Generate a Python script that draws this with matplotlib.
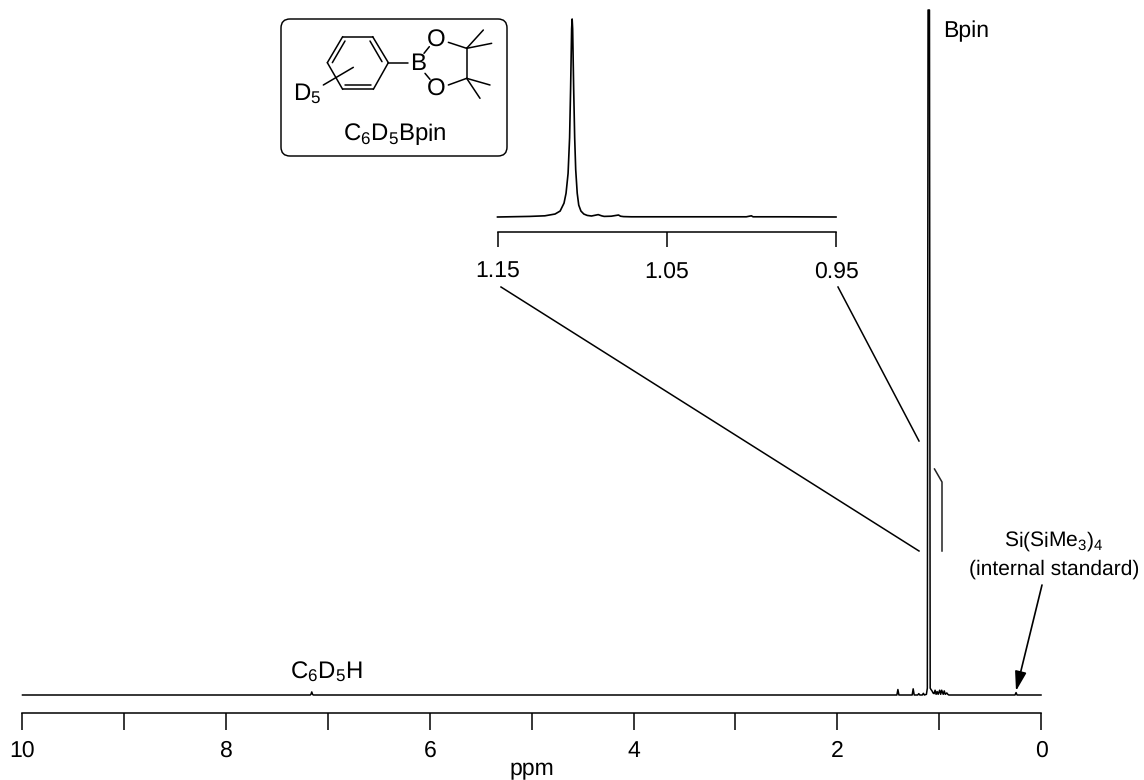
import matplotlib
matplotlib.use("Agg")
import matplotlib.pyplot as plt
from matplotlib.patches import FancyBboxPatch

plt.rcParams["font.family"] = ["Liberation Sans", "DejaVu Sans"]
plt.rcParams["mathtext.fontset"] = "custom"
plt.rcParams["mathtext.rm"] = "Liberation Sans"
plt.rcParams["mathtext.it"] = "Liberation Sans"
plt.rcParams["mathtext.bf"] = "Liberation Sans"
plt.rcParams["text.hinting"] = "none"
plt.rcParams["text.hinting_factor"] = 1

W, H = 1144, 780
FS = 16.4
FS_SUB = 17.4

# espectro completo (ppm, intensidad relativa)
ppm_full = [10.0, 7.175, 7.168, 7.16, 7.152, 7.145, 1.415, 1.405, 1.395, 1.265, 1.255, 1.245,
            1.21, 1.20, 1.19, 1.165, 1.155, 1.145, 1.125, 1.116, 1.109, 1.102, 1.095, 1.088,
            1.08, 1.07, 1.06, 1.05, 1.04, 1.03, 1.02, 1.01, 0.995, 0.985, 0.975, 0.96,
            0.95, 0.94, 0.925, 0.915, 0.905, 0.255, 0.245, 0.235, 0.0]
int_full = [0.0, 0.0, 0.1, 0.45, 0.1, 0.0, 0.0, 0.8, 0.0, 0.0, 0.9, 0.0,
            0.0, 0.2, 0.0, 0.0, 0.25, 0.0, 0.1, 1.0, 100, 100, 100, 1.0,
            0.8, 0.6, 0.3, 0.2, 0.7, 0.1, 0.5, 0.1, 0.7, 0.1, 0.7, 0.1,
            0.6, 0.1, 0.3, 0.1, 0.0, 0.0, 0.35, 0.0, 0.0]
ticks_full = [10, 8, 6, 4, 2, 0]
minor_full = [9, 7, 5, 3, 1]

# ampliacion 1.15 - 0.95 ppm
ppm_zoom = [1.15, 1.131, 1.122, 1.116, 1.113, 1.1107, 1.1095, 1.1083, 1.1074, 1.1068,
            1.1062, 1.1059, 1.1056, 1.105, 1.1044, 1.1038, 1.1029, 1.102, 1.1007, 1.099,
            1.097, 1.0945, 1.0905, 1.0885, 1.087, 1.0828, 1.0785, 1.0773, 1.0755, 1.071,
            1.041, 1.003, 1.0, 0.999, 0.98, 0.95]
int_zoom = [0.0, 0.3, 0.6, 1.5, 3.0, 7.0, 12.0, 22.0, 40.0, 65.0,
            95.0, 100.0, 95.0, 65.0, 40.0, 24.0, 12.0, 6.0, 3.0, 1.5,
            0.8, 0.5, 1.2, 0.6, 0.3, 0.4, 1.0, 0.4, 0.2, 0.1,
            0.1, 0.1, 0.6, 0.1, 0.1, 0.0]
ticks_zoom = [1.15, 1.05, 0.95]


def rect(x0, y0, x1, y1):
    # caja en pixeles de la imagen (y hacia abajo)
    return [x0 / W, 1 - y1 / H, (x1 - x0) / W, (y1 - y0) / H]


def mol(x, y):
    # coordenadas medidas sobre el recorte de la estructura
    return 270 + x / 3, 10 + y / 3


fig = plt.figure(figsize=(W / 100, H / 100), dpi=100)

ax = fig.add_axes(rect(22.5, 10, 1041, 713))
ax.plot(ppm_full, int_full, color="black", lw=1.1, clip_on=False)
ax.set_xlim(10, 0)
ax.set_ylim(-18 / 6.85, 100)
ax.set_xticks(ticks_full)
ax.set_xticks(minor_full, minor=True)
ax.set_yticks([])
ax.tick_params(axis="x", which="both", length=12, width=1.1, pad=7.5, labelsize=FS)
ax.set_xlabel("ppm", fontsize=FS, labelpad=-2)
for s in ["top", "left", "right"]:
    ax.spines[s].set_visible(False)
ax.spines["bottom"].set_linewidth(1.1)
ax.patch.set_alpha(0)

ins = fig.add_axes(rect(497.5, 19, 836, 232))
ins.plot(ppm_zoom, int_zoom, color="black", lw=1.2, clip_on=False)
ins.set_xlim(1.15, 0.95)
ins.set_ylim(-15 / 1.98, 100)
ins.set_xticks(ticks_zoom)
ins.set_xticklabels(["%.2f" % t for t in ticks_zoom])
ins.set_yticks([])
ins.tick_params(axis="x", length=10.5, width=1.1, pad=10.7, labelsize=FS)
for s in ["top", "left", "right"]:
    ins.spines[s].set_visible(False)
ins.spines["bottom"].set_linewidth(1.1)
ins.patch.set_alpha(0)

# capa en pixeles para anotaciones y estructura
top = fig.add_axes([0, 0, 1, 1])
top.set_xlim(0, W)
top.set_ylim(H, 0)
top.axis("off")
top.patch.set_alpha(0)

top.plot([501, 919], [287, 551], color="black", lw=1.1)
top.plot([838, 919], [287, 441], color="black", lw=1.1)
top.plot([934.5, 942, 942], [469, 482, 551], color="#222222", lw=1.1)

top.text(943, 31, "Bpin", fontsize=FS, va="center", ha="left")
top.text(326, 672, r"$\mathrm{C_6D_5H}$", fontsize=FS_SUB, va="center", ha="center")
top.text(1054, 541, r"$\mathrm{Si(SiMe_3)_4}$", fontsize=15.3, va="center", ha="center")
top.text(1054, 569, "(internal standard)", fontsize=15.3, va="center", ha="center")
top.annotate("", xy=(1016, 691), xytext=(1042, 585),
             arrowprops=dict(arrowstyle="-|>,head_length=0.85,head_width=0.25",
                             mutation_scale=14, color="black", lw=1.2,
                             shrinkA=0, shrinkB=0))

top.add_patch(FancyBboxPatch((290, 28), 208, 119, boxstyle="round,pad=9,rounding_size=9",
                             fc="none", ec="black", lw=1.05))

bonds = [
    [(218, 80), (308, 80)], [(308, 80), (355, 158)], [(355, 158), (310, 238)],
    [(310, 238), (218, 238)], [(218, 238), (172, 158)], [(172, 158), (218, 80)],
    [(225, 93), (187, 158)], [(300, 93), (336, 155)], [(225, 226), (303, 226)],
    [(160, 225), (250, 172)], [(355, 158), (415, 158)],
    [(462, 130), (478, 110)], [(465, 190), (480, 208)],
    [(535, 97), (590, 115)], [(535, 225), (590, 205)], [(590, 115), (590, 205)],
    [(590, 115), (640, 60)], [(590, 115), (665, 100)],
    [(590, 205), (660, 225)], [(590, 205), (630, 265)],
]
for a, b in bonds:
    p, q = mol(*a), mol(*b)
    top.plot([p[0], q[0]], [p[1], q[1]], color="black", lw=1.1, solid_capstyle="round")

for label, x, y in [("B", 445, 162), ("O", 500, 92), ("O", 500, 238)]:
    px, py = mol(x, y)
    top.text(px, py, label, fontsize=FS_SUB, ha="center", va="center")
px, py = mol(112, 252)
top.text(px, py, r"$\mathrm{D_5}$", fontsize=FS_SUB, ha="center", va="center")
px, py = mol(375, 374)
top.text(px, py, r"$\mathrm{C_6D_5Bpin}$", fontsize=FS_SUB, ha="center", va="center")

fig.savefig("out.png", dpi=100)
